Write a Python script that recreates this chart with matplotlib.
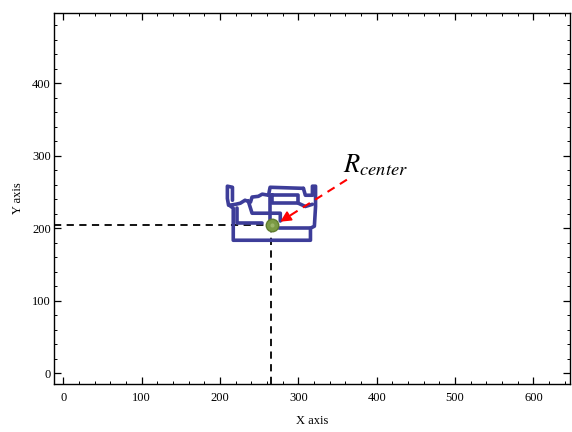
import numpy as np
import matplotlib
matplotlib.use("Agg")
import matplotlib.pyplot as plt
from matplotlib.ticker import MultipleLocator

plt.rcParams['font.family'] = ['Liberation Serif', 'DejaVu Serif']
plt.rcParams['mathtext.fontset'] = 'stix'

# Trajectory outline segments (data coords)
seg_outer_x = [216, 216, 209.5, 209.5, 211, 212, 217, 217, 315.5, 315.5, 320.5, 322, 322, 318, 318, 309, 306.5]
seg_outer_y = [238.6, 256.5, 258, 241, 231.7, 231.7, 227.6, 183.4, 183.4, 200, 202.8, 230, 258, 258, 245.5, 245.5, 255]
seg_top_x = [306.5, 264, 262]
seg_top_y = [255, 256.5, 245.5]
seg_rim_x = [212, 220, 226, 232, 239, 241, 249, 254, 262]
seg_rim_y = [231.7, 233, 234.5, 238.6, 236, 243, 244, 247, 245.5]
seg_stem_x = [264, 264, 266]
seg_stem_y = [245.5, 204, 204]
seg_box_x = [267, 300, 300, 267, 267]
seg_box_y = [245.5, 245.5, 234.5, 234.5, 245.5]
seg_diag_x = [300, 309, 318]
seg_diag_y = [234.5, 230, 233]
seg_shelf_x = [236, 241, 277, 277]
seg_shelf_y = [238, 220.7, 220.7, 210]
seg_lower_x = [275, 315]
seg_lower_y = [200, 200]
seg_left_x = [222, 222, 254]
seg_left_y = [227.6, 207, 207]

segments = [(seg_outer_x, seg_outer_y), (seg_top_x, seg_top_y), (seg_rim_x, seg_rim_y),
            (seg_stem_x, seg_stem_y), (seg_box_x, seg_box_y), (seg_diag_x, seg_diag_y),
            (seg_shelf_x, seg_shelf_y), (seg_lower_x, seg_lower_y), (seg_left_x, seg_left_y)]

center_x, center_y = 266, 205
ref_x, ref_y = 265, 204
arrow_tail = (362, 267)
arrow_tip = (277, 209)
label_pos = (357, 277)

xlim = (-12, 647)
ylim = (-15, 497)

fig = plt.figure(figsize=(5.72, 4.32), dpi=100)
ax = fig.add_axes([0.094, 0.111, 0.903, 0.859])

for sx, sy in segments:
    ax.plot(sx, sy, color='#3d3d99', lw=2.6, solid_joinstyle='round', solid_capstyle='round', zorder=3)

ax.plot([xlim[0], ref_x], [ref_y, ref_y], color='black', lw=1.3, ls=(0, (4, 3)), zorder=2)
ax.plot([ref_x, ref_x], [ylim[0], ref_y], color='black', lw=1.3, ls=(0, (4, 3)), zorder=2)

# red dashed arrow
fx = arrow_tip[0] + (arrow_tail[0] - arrow_tip[0]) * 0.15
fy = arrow_tip[1] + (arrow_tail[1] - arrow_tip[1]) * 0.15
ax.plot([arrow_tail[0], fx], [arrow_tail[1], fy], color='red', lw=1.5, ls=(0, (4, 3)), zorder=5)
ax.annotate('', xy=arrow_tip, xytext=(fx, fy),
            arrowprops=dict(arrowstyle='-|>', color='red', lw=1.2, mutation_scale=16, shrinkA=0, shrinkB=0),
            zorder=6)

ax.plot([center_x], [center_y], 'o', ms=9, mfc='#7b9a45', mec='#5f7d2e', mew=1.0, zorder=4)
ax.plot([center_x], [center_y], 'o', ms=3, mfc='#9bb56a', mec='none', zorder=4)

ax.text(label_pos[0], label_pos[1], r'$R_{center}$', fontsize=19, ha='left', va='baseline', zorder=6)

ax.set_xlim(*xlim)
ax.set_ylim(*ylim)
ax.xaxis.set_major_locator(MultipleLocator(100))
ax.xaxis.set_minor_locator(MultipleLocator(20))
ax.yaxis.set_major_locator(MultipleLocator(100))
ax.yaxis.set_minor_locator(MultipleLocator(20))
ax.tick_params(which='both', direction='in', top=True, right=True, labelsize=9, colors='black')
ax.tick_params(which='major', length=5, width=0.9)
ax.tick_params(which='minor', length=2.5, width=0.7)
ax.tick_params(axis='x', pad=6)
ax.tick_params(axis='y', pad=2)
for s in ax.spines.values():
    s.set_linewidth(1.0)

ax.set_xlabel('X axis', fontsize=9, labelpad=8)
ax.set_ylabel('Y axis', fontsize=9, labelpad=6)

fig.savefig('out.png', dpi=100)
